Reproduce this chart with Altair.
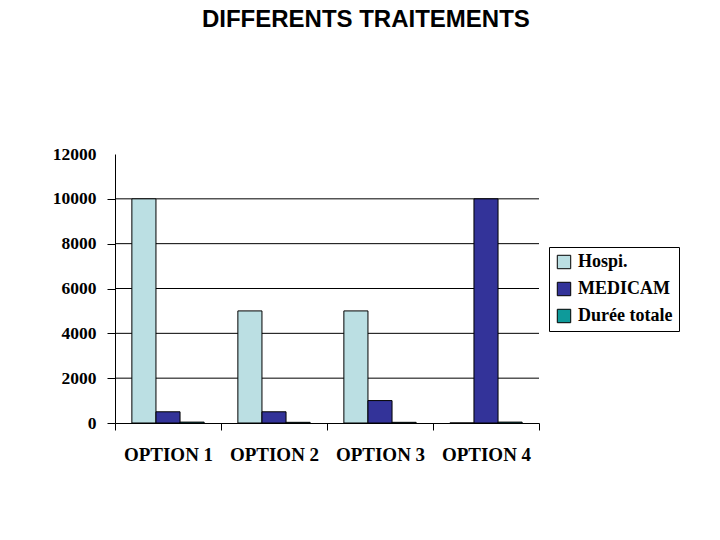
import altair as alt
import pandas as pd

# Data
options = ["OPTION 1", "OPTION 2", "OPTION 3", "OPTION 4"]
series = ["Hospi.", "MEDICAM", "Durée totale"]
hospi = [10000, 5000, 5000, 0]
medicam = [500, 500, 1000, 10000]
duree = [40, 30, 30, 40]
colors = ["#BBDFE3", "#333399", "#0E9A9A"]
y_ticks = [0, 2000, 4000, 6000, 8000, 10000, 12000]
grid_values = [2000, 4000, 6000, 8000, 10000]

rows = []
for serie, vals in zip(series, [hospi, medicam, duree]):
    for opt, v in zip(options, vals):
        rows.append({"option": opt, "serie": serie, "valeur": v})
df = pd.DataFrame(rows)
grid_df = pd.DataFrame({"valeur": grid_values})

serif = "Liberation Serif"

# hide the tick at the top value
top_hidden = {"condition": {"test": "datum.value == 12000", "value": 0}, "value": 1}

y_enc = alt.Y(
    "valeur:Q",
    title=None,
    scale=alt.Scale(domain=[0, 12000]),
    axis=alt.Axis(
        values=y_ticks,
        format="d",
        grid=False,
        tickSize=8,
        tickColor="black",
        tickOpacity=top_hidden,
        domainColor="black",
        labelFont=serif,
        labelFontSize=17.5,
        labelFontWeight="bold",
        labelColor="black",
        labelPadding=11,
    ),
)

bars = (
    alt.Chart(df)
    .mark_bar(stroke="black", strokeWidth=1)
    .encode(
        x=alt.X(
            "option:N",
            sort=options,
            title=None,
            scale=alt.Scale(paddingInner=0, paddingOuter=0),
            axis=alt.Axis(
                labelAngle=0,
                tickBand="extent",
                tickSize=7,
                tickColor="black",
                domainColor="black",
                labelFont=serif,
                labelFontSize=19,
                labelFontWeight="bold",
                labelColor="black",
                labelPadding=15,
                grid=False,
            ),
        ),
        xOffset=alt.XOffset(
            "serie:N",
            sort=series,
            scale=alt.Scale(paddingOuter=0.7, paddingInner=0),
        ),
        y=y_enc,
        color=alt.Color(
            "serie:N",
            sort=series,
            scale=alt.Scale(domain=series, range=colors),
            legend=alt.Legend(
                title=None,
                orient="none",
                legendX=434,
                legendY=93,
                strokeColor="black",
                fillColor="white",
                padding=6,
                symbolType="square",
                symbolSize=180,
                symbolStrokeColor="black",
                symbolStrokeWidth=1,
                symbolOpacity=1,
                labelFont=serif,
                labelFontSize=18,
                labelFontWeight="bold",
                labelColor="black",
                labelOffset=5,
                rowPadding=9,
            ),
        ),
    )
)

# horizontal grid lines behind the bars
grid = (
    alt.Chart(grid_df)
    .mark_rule(color="black", strokeWidth=1)
    .encode(y=alt.Y("valeur:Q"))
)

chart = (
    alt.layer(grid, bars)
    .properties(
        width=424,
        height=269,
        background="white",
        padding={"left": 44, "top": 0, "right": 5, "bottom": 5},
        title=alt.TitleParams(
            "DIFFERENTS TRAITEMENTS",
            font="Liberation Sans",
            fontSize=24,
            fontWeight="bold",
            color="black",
            anchor="middle",
            frame="bounds",
            offset=113,
        ),
    )
    .configure_view(strokeWidth=0, strokeOpacity=0)
)

chart.save("out.html", embed_options={"renderer": "svg", "actions": False})
